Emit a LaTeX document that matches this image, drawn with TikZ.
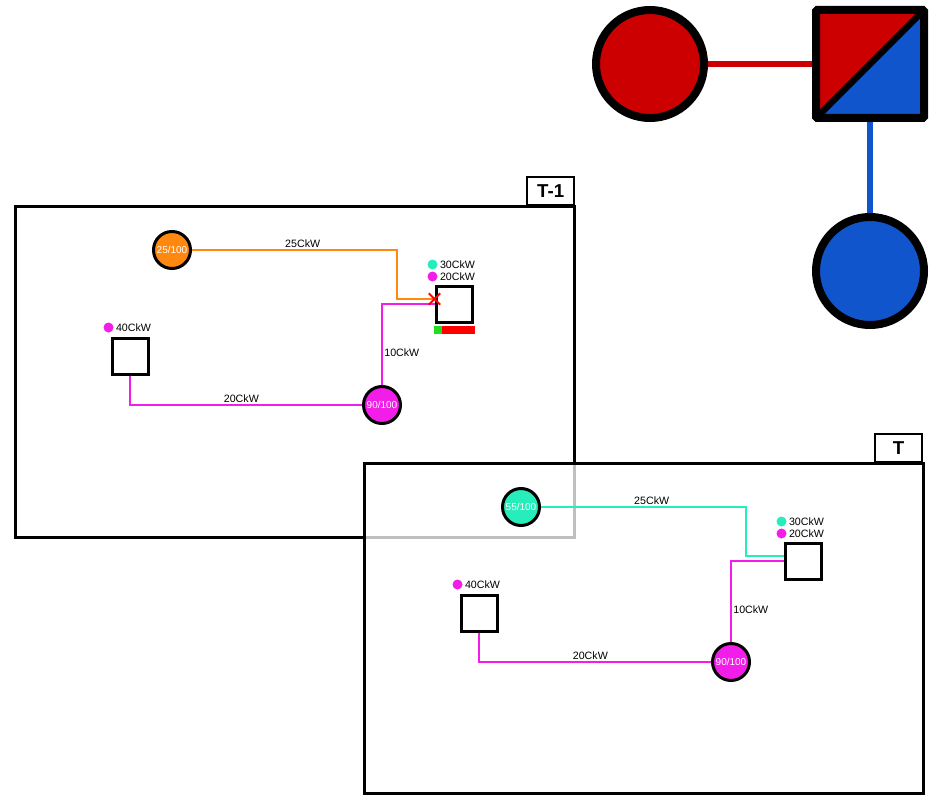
\documentclass[tikz,border=0pt]{standalone}
\usepackage{fontspec}
\setmainfont{Liberation Sans}
\usetikzlibrary{positioning, shapes.misc}

\definecolor{famred}{HTML}{CC0000}
\definecolor{famblue}{HTML}{1155CC}
\definecolor{genorange}{HTML}{FF8811}
\definecolor{gencyan}{HTML}{26EDB9}
\definecolor{batmag}{HTML}{F21DE8}
\definecolor{barok}{HTML}{22DD22}
\definecolor{barfull}{HTML}{FF0000}

\begin{document}
\begin{tikzpicture}[x=0.75pt, y=-0.75pt,
		famcirc/.style={circle, draw, line width=6pt, minimum size=81pt, inner sep=0pt},
		famsq/.style={rectangle, draw, line width=6pt, minimum size=81pt, rounded corners=1pt,
			path picture={
				\fill[famred] (path picture bounding box.south west) -- (path picture bounding box.north west) -- (path picture bounding box.north east) -- cycle;
				\fill[famblue] (path picture bounding box.south west) -- (path picture bounding box.south east) -- (path picture bounding box.north east) -- cycle;
				\draw[line width=5pt] (path picture bounding box.south west) -- (path picture bounding box.north east);}},
		famlink/.style={draw=#1, line width=4.5pt},
		frame/.style={draw, line width=2.25pt},
		tab/.style={draw, line width=1.5pt, fill=white, anchor=south east, minimum width=35pt, minimum height=21pt,
			font=\bfseries\fontsize{14}{14}\selectfont},
		gen/.style={circle, draw, line width=2.25pt, minimum size=27.75pt, inner sep=0pt, text=white,
			font=\fontsize{7.5}{8}\selectfont},
		bus/.style={rectangle, draw, line width=2.25pt, minimum size=27pt, inner sep=0pt, fill=white},
		dot/.style={circle, fill=#1, minimum size=7.5pt, inner sep=0pt},
		kw/.style={font=\fontsize{8}{8}\selectfont, inner sep=1pt, text=black},
		link/.style={draw=#1, line width=1.5pt},
		cut/.style={cross out, draw=red, line width=1.5pt, minimum size=7pt, inner sep=0pt}]
	\useasboundingbox (0,0) rectangle (934,795);

	% pedigree
	\draw[famlink=famred] (650,64) coordinate (momc) -- (870,64) coordinate (famc);
	\draw[famlink=famblue] (famc) -- (870,271) coordinate (kidc);
	\node[famcirc, fill=famred] (mom) at (momc) {};
	\node[famsq] (fam) at (famc) {};
	\node[famcirc, fill=famblue] (kid) at (kidc) {};

	% step T-1
	\draw[frame] (15,206) rectangle (574,537);
	\node[tab] (tabA) at (575,206) {T-1};

	\node[gen, fill=genorange] (genA) at (172,250) {25/100};
	\node[bus] (busA) at (454,304) {};
	\node[bus] (loadA) at (130,356) {};
	\node[gen, fill=batmag] (batA) at (382,405) {90/100};
	\coordinate (kinkA) at (397,299);
	\coordinate (feedA) at ([yshift=3.75pt]busA.west);

	\node[dot=gencyan] (dA1) at ([shift={(-2,-20)}]busA.north west) {};
	\node[dot=batmag] (dA2) at ([shift={(-2,-8)}]busA.north west) {};
	\node[kw, right=0.5pt of dA1] (kA1) {30CkW};
	\node[kw, right=0.5pt of dA2] (kA2) {20CkW};
	\node[dot=batmag] (dA3) at ([shift={(-2,-9)}]loadA.north west) {};
	\node[kw, right=0.5pt of dA3] (kA3) {40CkW};

	\fill[barok] ([shift={(-1,2)}]busA.south west) rectangle ++(8,8);
	\fill[barfull] ([shift={(7,2)}]busA.south west) rectangle ([shift={(1,10)}]busA.south east);

	\draw[link=genorange] (genA) -| node[kw, pos=0.27, above] {25CkW} (kinkA) -- (feedA);
	\draw[link=batmag] (batA) |- node[kw, pos=0.2, right] {10CkW} (busA);
	\draw[link=batmag] (loadA) |- node[kw, pos=0.74, above] {20CkW} (batA);
	\node[cut] (cutA) at (feedA) {};

	% step T
	\draw[frame, fill=white, fill opacity=0.75] (364,463) rectangle (923,793);
	\node[tab] (tabB) at (923,463) {T};

	\begin{scope}[shift={(349,257)}]
		\node[gen, fill=gencyan] (genB) at (172,250) {55/100};
		\node[bus] (busB) at (454,304) {};
		\node[bus] (loadB) at (130,356) {};
		\node[gen, fill=batmag] (batB) at (382,405) {90/100};
		\coordinate (kinkB) at (397,299);
		\coordinate (feedB) at ([yshift=3.75pt]busB.west);

		\node[dot=gencyan] (dB1) at ([shift={(-2,-20)}]busB.north west) {};
		\node[dot=batmag] (dB2) at ([shift={(-2,-8)}]busB.north west) {};
		\node[kw, right=0.5pt of dB1] (kB1) {30CkW};
		\node[kw, right=0.5pt of dB2] (kB2) {20CkW};
		\node[dot=batmag] (dB3) at ([shift={(-2,-9)}]loadB.north west) {};
		\node[kw, right=0.5pt of dB3] (kB3) {40CkW};

		\draw[link=gencyan] (genB) -| node[kw, pos=0.27, above] {25CkW} (kinkB) -- (feedB);
		\draw[link=batmag] (batB) |- node[kw, pos=0.2, right] {10CkW} (busB);
		\draw[link=batmag] (loadB) |- node[kw, pos=0.74, above] {20CkW} (batB);
	\end{scope}
\end{tikzpicture}
\end{document}
